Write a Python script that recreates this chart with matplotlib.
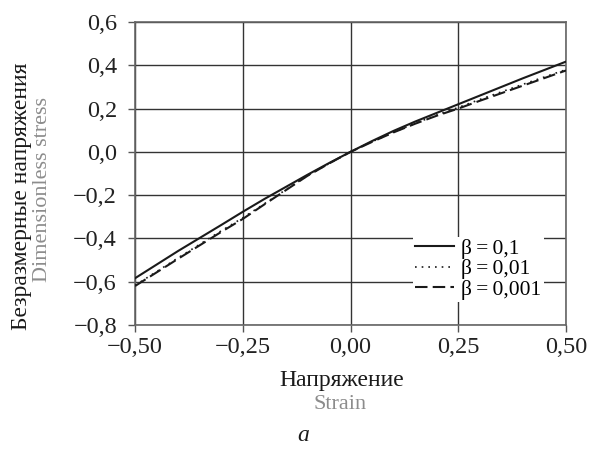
import matplotlib
matplotlib.use('Agg')
import matplotlib.pyplot as plt
import numpy as np

plt.rcParams['font.family'] = ['Liberation Serif', 'DejaVu Serif']
plt.rcParams['axes.unicode_minus'] = True

# strain values and dimensionless stress for three beta values
strain = [-0.5, -0.4, -0.3, -0.25, -0.2, -0.15, -0.1, -0.05, 0.0, 0.05, 0.1, 0.15, 0.2, 0.25, 0.3, 0.4, 0.5]
stress_b01 = [-0.584, -0.458, -0.338, -0.277, -0.218, -0.162, -0.106, -0.052, 0.0, 0.05, 0.097, 0.14, 0.18, 0.22, 0.26, 0.34, 0.417]
stress_b001 = [-0.617, -0.49, -0.365, -0.305, -0.24, -0.175, -0.11, -0.054, 0.0, 0.047, 0.091, 0.132, 0.17, 0.205, 0.242, 0.312, 0.38]
stress_b0001 = [-0.62, -0.494, -0.37, -0.31, -0.243, -0.177, -0.111, -0.054, 0.0, 0.046, 0.09, 0.13, 0.167, 0.2, 0.236, 0.306, 0.376]

labels = ['β\u2009=\u20090,1', 'β\u2009=\u20090,01', 'β\u2009=\u20090,001']
xticks = [-0.5, -0.25, 0.0, 0.25, 0.5]
yticks = [-0.8, -0.6, -0.4, -0.2, 0.0, 0.2, 0.4, 0.6]


def comma(v, nd):
    s = f'{v:.{nd}f}'.replace('.', ',').replace('-', '\u2212')
    if s.strip('\u2212').replace(',', '').strip('0') == '':
        s = s.replace('\u2212', '')
    return s


fig = plt.figure(figsize=(5.94, 4.5), dpi=100)
ax = fig.add_axes([0.2273, 0.2778, 0.7256, 0.6733])

ax.plot(strain, stress_b01, color='#1a1a1a', lw=1.5, ls='-', label=labels[0], zorder=3)
ax.plot(strain, stress_b001, color='#1a1a1a', lw=1.2, ls=(0, (1, 3)), label=labels[1], zorder=3)
ax.plot(strain, stress_b0001, color='#1a1a1a', lw=1.5, ls=(0, (6, 2.5)), label=labels[2], zorder=3)

ax.set_xlim(-0.5, 0.5)
ax.set_ylim(-0.8, 0.6)
ax.set_xticks(xticks)
ax.set_yticks(yticks)
ax.set_xticklabels([comma(v, 2) for v in xticks])
ax.set_yticklabels([comma(v, 1) for v in yticks])
ax.tick_params(labelsize=17.5, length=5, width=1, color='#555555', labelcolor='#222222', direction='out')
ax.tick_params(axis='y', pad=8)
ax.tick_params(axis='x', pad=4)
ax.grid(True, color='#333333', lw=1)
for sp in ax.spines.values():
    sp.set_color('#666666')
    sp.set_linewidth(1.2)

leg = ax.legend(loc='upper left', bbox_to_anchor=(0.645, 0.292), fontsize=15.5, frameon=True,
                facecolor='white', edgecolor='none', framealpha=1, fancybox=False,
                handlelength=1.8, handletextpad=0.35, labelspacing=0.02, borderpad=0.1,
                borderaxespad=0.0)
leg.set_zorder(5)

fig.text(0.036, 0.565, 'Безразмерные напряжения', rotation=90, fontsize=17,
         color='#1a1a1a', ha='center', va='center')
fig.text(0.072, 0.58, 'Dimensionless stress', rotation=90, fontsize=16,
         color='#8c8c8c', ha='center', va='center')
fig.text(0.575, 0.154, 'Напряжение', fontsize=17, color='#1a1a1a', ha='center', va='center')
fig.text(0.572, 0.102, 'Strain', fontsize=16, color='#8c8c8c', ha='center', va='center')
fig.text(0.51, 0.033, 'a', fontsize=17, style='italic', color='#1a1a1a', ha='center', va='center')

fig.savefig('out.png', dpi=100)
